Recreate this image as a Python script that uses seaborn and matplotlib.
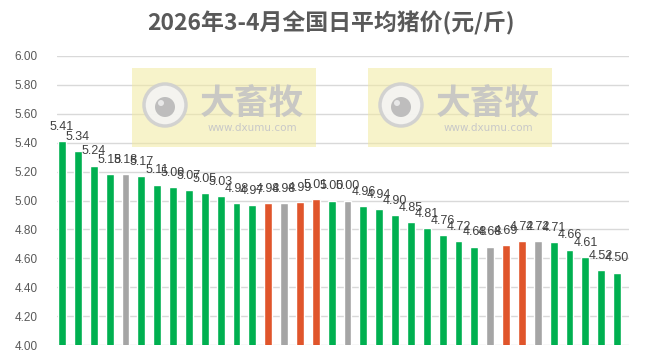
import numpy as np
import matplotlib
matplotlib.use('Agg')
import matplotlib.pyplot as plt
import seaborn as sns
from matplotlib.patches import Rectangle, Circle

# daily national average hog price, 2026 Mar-Apr (yuan/jin)
days = list(range(1, 37))
prices = [5.41, 5.34, 5.24, 5.18, 5.18, 5.17, 5.11, 5.09, 5.07, 5.05,
          5.03, 4.98, 4.97, 4.98, 4.98, 4.99, 5.01, 5.00, 5.00, 4.96,
          4.94, 4.90, 4.85, 4.81, 4.76, 4.72, 4.68, 4.68, 4.69, 4.72,
          4.72, 4.71, 4.66, 4.61, 4.52, 4.50]
# down / flat / up compared with the day before
trend = ['down', 'down', 'down', 'down', 'flat', 'down', 'down', 'down', 'down', 'down',
         'down', 'down', 'down', 'up', 'flat', 'up', 'up', 'down', 'flat', 'down',
         'down', 'down', 'down', 'down', 'down', 'down', 'down', 'flat', 'up', 'up',
         'flat', 'down', 'down', 'down', 'down', 'down']
yticks = [4.0, 4.2, 4.4, 4.6, 4.8, 5.0, 5.2, 5.4, 5.6, 5.8, 6.0]
title = '2026年3-4月全国日平均猪价(元/斤)'

palette = {'down': '#00B050', 'flat': '#A5A5A5', 'up': '#E0552B'}

sns.set_style('white')
plt.rcParams['font.family'] = ['Liberation Sans Narrow', 'Liberation Sans', 'DejaVu Sans']

fig = plt.figure(figsize=(6.5, 3.64), dpi=100)
ax = fig.add_axes([57/650, 19/364, 572/650, 289/364])

sns.barplot(x=days, y=prices, hue=trend, palette=palette, dodge=False,
            width=0.5, saturation=1, legend=False, ax=ax, zorder=3)

ax.set_ylim(4.0, 6.0)
ax.set_xlim(-0.32, len(days) - 0.25)
ax.set_yticks(yticks)
ax.set_yticklabels([f'{t:.2f}' for t in yticks], fontsize=8.5, color='#595959')
ax.set_xticks([])
ax.set_xlabel('')
ax.set_ylabel('')
ax.yaxis.grid(True, color='#D9D9D9', linewidth=1, zorder=0)
ax.set_axisbelow(True)
for s in ax.spines.values():
    s.set_visible(False)
ax.tick_params(axis='y', length=0, pad=14)

for i, v in enumerate(prices):
    ax.annotate(f'{v:.2f}', (i, v), xytext=(0, 6), textcoords='offset points',
                ha='center', va='bottom', fontsize=9, color='#404040', zorder=5)

fig.text(0.51, 0.935, title, ha='center', va='center', fontsize=16.5,
         fontweight='bold', color='#595959',
         family=['Noto Sans CJK SC', 'DejaVu Sans'])

# watermarks
ov = fig.add_axes([0, 0, 1, 1], zorder=10)
ov.set_xlim(0, 650)
ov.set_ylim(364, 0)
ov.axis('off')
ov.patch.set_alpha(0)
for x0 in [132, 368]:
    ov.add_patch(Rectangle((x0, 68), 184, 79, facecolor='#F2EAA0', alpha=0.55,
                           edgecolor='none'))
    cx, cy = x0 + 33, 105
    ov.add_patch(Circle((cx, cy), 21, facecolor='#F4F4F4', edgecolor='#CFCFCF',
                        linewidth=2.5, alpha=0.9))
    ov.add_patch(Circle((cx, cy + 2), 10, facecolor='#B8B8B8', edgecolor='none',
                        alpha=0.9))
    ov.add_patch(Circle((cx - 4, cy - 2), 3, facecolor='#E8E8E8', edgecolor='none'))
    ov.text(x0 + 120, 103, '大畜牧', ha='center', va='center', fontsize=25,
            fontweight='bold', color='#C4C4C4', alpha=0.9,
            family=['Noto Sans CJK SC', 'DejaVu Sans'])
    ov.text(x0 + 120, 128, 'www.dxumu.com', ha='center', va='center', fontsize=7.5,
            color='#C8C8C8', family=['DejaVu Sans'])

fig.savefig('out.png', dpi=100)
